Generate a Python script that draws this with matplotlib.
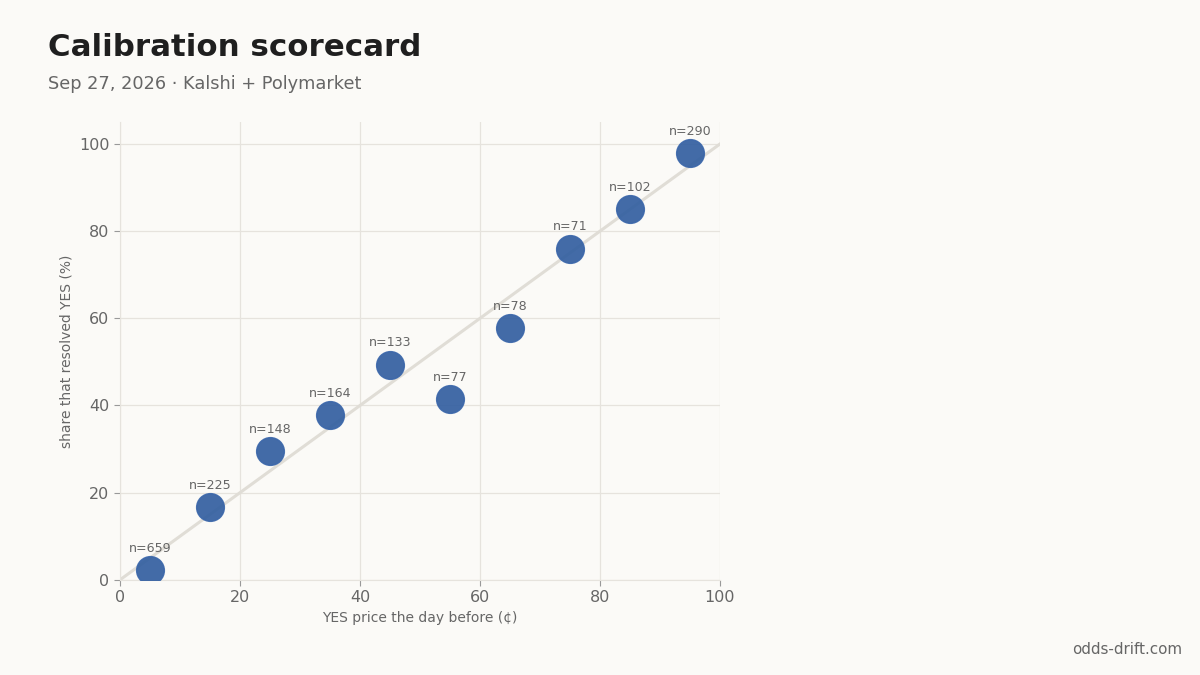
import matplotlib
matplotlib.use("Agg")
import matplotlib.pyplot as plt

plt.rcParams["font.family"] = ["DejaVu Sans"]

price_bins = [5, 15, 25, 35, 45, 55, 65, 75, 85, 95]
resolved_yes = [2.3, 16.7, 29.5, 37.8, 49.4, 41.4, 57.7, 76.0, 85.1, 97.9]
counts = [659, 225, 148, 164, 133, 77, 78, 71, 102, 290]
x_ticks = [0, 20, 40, 60, 80, 100]
y_ticks = [0, 20, 40, 60, 80, 100]

bg = "#fbfaf7"
grid_c = "#e6e3dd"
text_c = "#666666"

fig = plt.figure(figsize=(12, 6.75), dpi=100, facecolor=bg)
ax = fig.add_axes([0.1, 0.141, 0.5, 0.678], facecolor=bg)

ax.plot([0, 100], [0, 100], color="#e0ddd6", lw=2.2, zorder=1)
ax.scatter(price_bins, resolved_yes, s=400, color="#2f5c9f", alpha=0.9,
           edgecolor="#3a66aa", linewidth=1, zorder=3)
for x, y, n in zip(price_bins, resolved_yes, counts):
    ax.annotate(f"n={n}", (x, y), xytext=(0, 11), textcoords="offset points",
                ha="center", va="bottom", fontsize=9.1, color=text_c)

ax.set_xlim(0, 100)
ax.set_ylim(0, 105)
ax.set_xticks(x_ticks)
ax.set_yticks(y_ticks)
ax.grid(True, color=grid_c, lw=0.9)
ax.set_axisbelow(True)
for s in ["top", "right"]:
    ax.spines[s].set_visible(False)
for s in ["left", "bottom"]:
    ax.spines[s].set_color(grid_c)
ax.tick_params(colors=text_c, labelsize=11.5, length=4, color="#999999")
ax.set_xlabel("YES price the day before (¢)", fontsize=10, color=text_c, labelpad=4)
ax.set_ylabel("share that resolved YES (%)", fontsize=10, color=text_c, labelpad=4)

fig.text(0.04, 0.917, "Calibration scorecard", fontsize=22.2, fontweight="bold",
         color="#1f1f1f", va="baseline")
fig.text(0.04, 0.868, "Sep 27, 2026 · Kalshi + Polymarket", fontsize=12.8,
         color=text_c, va="baseline")
fig.text(0.985, 0.031, "odds-drift.com", fontsize=10.9, color=text_c, ha="right",
         va="baseline")

fig.savefig("out.png", dpi=100, facecolor=bg)
